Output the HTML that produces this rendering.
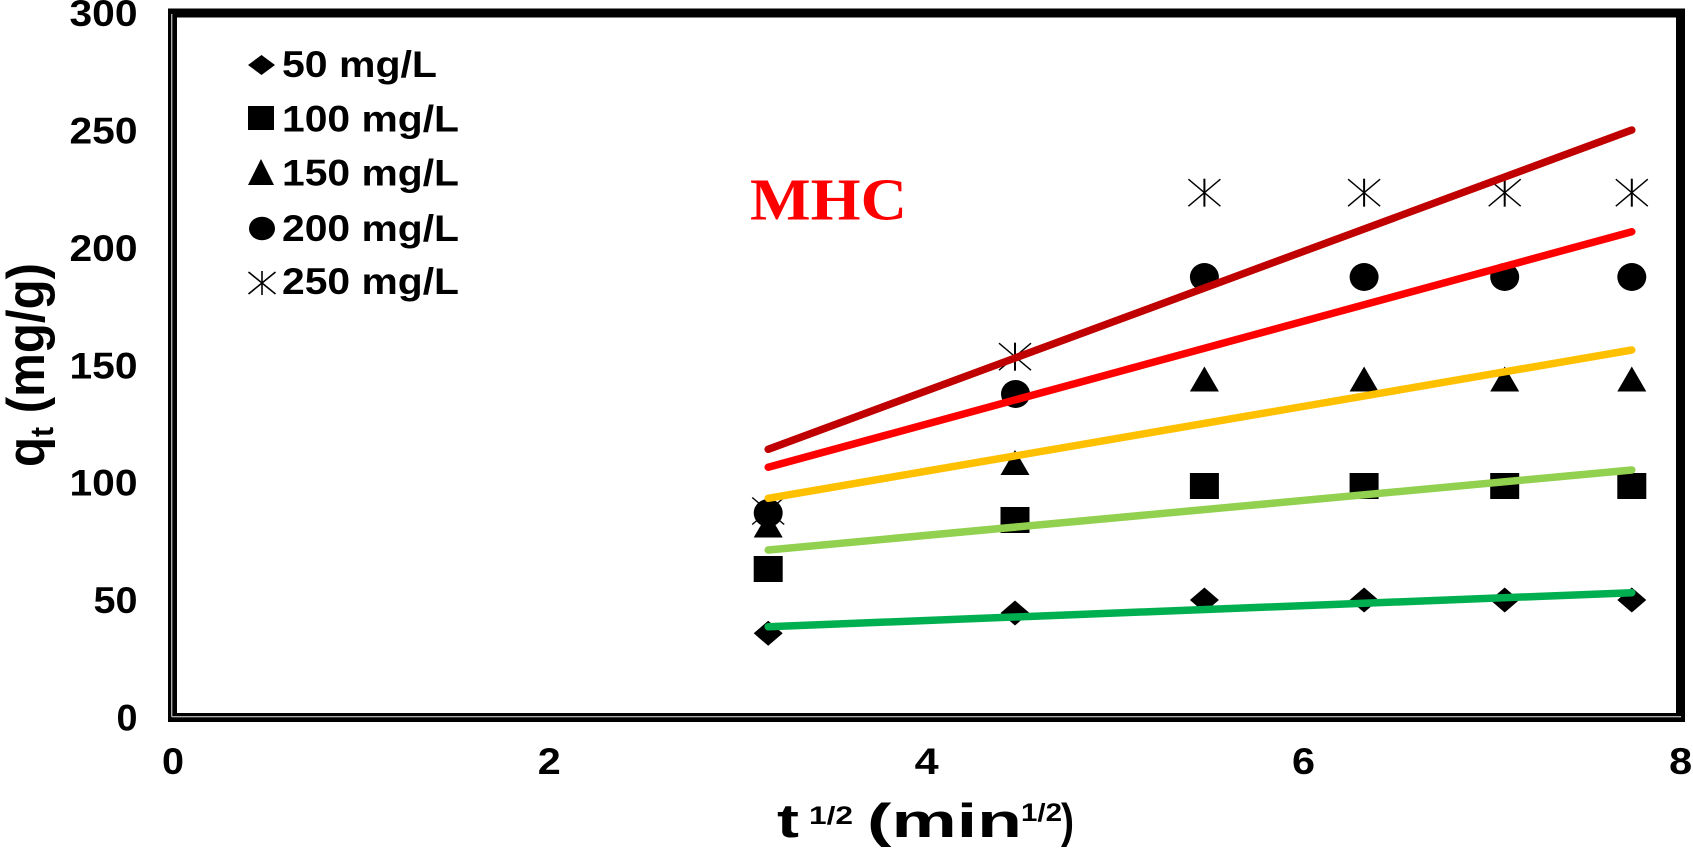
<!DOCTYPE html>
<html><head><meta charset="utf-8"><style>
html,body{margin:0;padding:0;background:#fff;}
svg{display:block;}
text{font-family:"Liberation Sans",Arial,sans-serif;font-weight:bold;fill:#000;}
</style></head><body>
<svg width="1693" height="848" viewBox="0 0 1693 848" xmlns="http://www.w3.org/2000/svg">
<rect width="1693" height="848" fill="#fff"/>
<!-- frame -->
<rect x="172.5" y="13" width="1508" height="704.5" fill="none" stroke="#000" stroke-width="9"/>
<line x1="171.7" y1="14" x2="171.7" y2="716.7" stroke="#aaa" stroke-width="1.4"/>
<line x1="171.7" y1="716.7" x2="1681" y2="716.7" stroke="#aaa" stroke-width="1.4"/>

<!-- y tick labels -->
<g font-size="37" text-anchor="end">
<text x="137.5" y="730.5" textLength="21" lengthAdjust="spacingAndGlyphs">0</text>
<text x="137.5" y="613.1" textLength="44" lengthAdjust="spacingAndGlyphs">50</text>
<text x="137.5" y="495.7" textLength="68" lengthAdjust="spacingAndGlyphs">100</text>
<text x="137.5" y="378.3" textLength="68" lengthAdjust="spacingAndGlyphs">150</text>
<text x="137.5" y="260.9" textLength="68" lengthAdjust="spacingAndGlyphs">200</text>
<text x="137.5" y="143.5" textLength="68" lengthAdjust="spacingAndGlyphs">250</text>
<text x="137.5" y="26.1" textLength="68" lengthAdjust="spacingAndGlyphs">300</text>
</g>
<!-- x tick labels -->
<g font-size="37" text-anchor="middle">
<text x="173" y="774" textLength="22" lengthAdjust="spacingAndGlyphs">0</text>
<text x="549.3" y="774" textLength="23" lengthAdjust="spacingAndGlyphs">2</text>
<text x="926.7" y="774" textLength="24" lengthAdjust="spacingAndGlyphs">4</text>
<text x="1303.5" y="774" textLength="23" lengthAdjust="spacingAndGlyphs">6</text>
<text x="1680.7" y="774" textLength="23" lengthAdjust="spacingAndGlyphs">8</text>
</g>

<!-- x axis title -->
<text x="777" y="837" font-size="47" textLength="22" lengthAdjust="spacingAndGlyphs">t</text>
<text x="809" y="824" font-size="25" textLength="44" lengthAdjust="spacingAndGlyphs">1/2</text>
<text x="867" y="837" font-size="47" textLength="155" lengthAdjust="spacingAndGlyphs">(min</text>
<text x="1021" y="821" font-size="25" textLength="41" lengthAdjust="spacingAndGlyphs">1/2</text>
<text x="1061" y="837" font-size="47" textLength="13" lengthAdjust="spacingAndGlyphs">)</text>

<!-- y axis title -->
<g transform="translate(44,467) scale(1.12,1) rotate(-90)">
<text x="0" y="0" font-size="47" textLength="204" lengthAdjust="spacingAndGlyphs">q<tspan font-size="29" dy="8">t</tspan><tspan dy="-8"> (mg/g)</tspan></text>
</g>

<!-- MHC -->
<text x="750" y="219.3" font-size="59" textLength="157" lengthAdjust="spacingAndGlyphs" style="font-family:'Liberation Serif','Times New Roman',serif;fill:#FF0000;">MHC</text>

<!-- legend -->
<g font-size="37">
<text x="282" y="77" textLength="155" lengthAdjust="spacingAndGlyphs">50 mg/L</text>
<text x="282" y="131.5" textLength="177" lengthAdjust="spacingAndGlyphs">100 mg/L</text>
<text x="282" y="185.5" textLength="177" lengthAdjust="spacingAndGlyphs">150 mg/L</text>
<text x="282" y="241" textLength="177" lengthAdjust="spacingAndGlyphs">200 mg/L</text>
<text x="282" y="294" textLength="177" lengthAdjust="spacingAndGlyphs">250 mg/L</text>
</g>
<polygon points="261.5,55 275,65 261.5,75 248,65" fill="#000"/>
<rect x="248" y="106" width="26" height="24" fill="#000"/>
<polygon points="261,159 274,185 248,185" fill="#000"/>
<ellipse cx="262" cy="228.5" rx="13" ry="11.8" fill="#000"/>
<g stroke="#000" stroke-width="1.6">
<line x1="262" y1="271" x2="262" y2="295"/>
<line x1="248.5" y1="272" x2="275.5" y2="294"/>
<line x1="248.5" y1="294" x2="275.5" y2="272"/>
</g>

<!-- markers -->
<defs>
<polygon id="dia" points="0,-12.5 14.5,0 0,12.5 -14.5,0" fill="#000"/>
<rect id="sq" x="-14.5" y="-13" width="29" height="26" fill="#000"/>
<polygon id="tri" points="0,-12.5 14.5,12.5 -14.5,12.5" fill="#000"/>
<ellipse id="cir" cx="0" cy="0" rx="14.5" ry="14" fill="#000"/>
<g id="ast" stroke="#000">
<line x1="0" y1="-14" x2="0" y2="14" stroke-width="2"/>
<line x1="-16" y1="-13.5" x2="16" y2="13.5" stroke-width="1.4"/>
<line x1="-16" y1="13.5" x2="16" y2="-13.5" stroke-width="1.4"/>
</g>
</defs>
<!-- 50 -->
<use href="#dia" x="768.2" y="633.3"/>
<use href="#dia" x="1015" y="613"/>
<use href="#dia" x="1204.4" y="600"/>
<use href="#dia" x="1364.1" y="600"/>
<use href="#dia" x="1504.7" y="600"/>
<use href="#dia" x="1631.8" y="600"/>
<!-- 100 -->
<use href="#sq" x="768.2" y="569"/>
<use href="#sq" x="1015" y="520"/>
<use href="#sq" x="1204.4" y="486"/>
<use href="#sq" x="1364.1" y="486"/>
<use href="#sq" x="1504.7" y="486"/>
<use href="#sq" x="1631.8" y="486"/>
<!-- 150 -->
<use href="#tri" x="768.2" y="525"/>
<use href="#tri" x="1015" y="462.5"/>
<use href="#tri" x="1204.4" y="379"/>
<use href="#tri" x="1364.1" y="379"/>
<use href="#tri" x="1504.7" y="379"/>
<use href="#tri" x="1631.8" y="379"/>
<!-- 250 -->
<use href="#ast" x="768.2" y="511"/>
<use href="#ast" x="1015" y="356.7"/>
<use href="#ast" x="1204.4" y="192.7"/>
<use href="#ast" x="1364.1" y="192.7"/>
<use href="#ast" x="1504.7" y="192.7"/>
<use href="#ast" x="1631.8" y="192.7"/>
<!-- 200 -->
<use href="#cir" x="768.2" y="513"/>
<use href="#cir" x="1015.5" y="394"/>
<use href="#cir" x="1204.4" y="277"/>
<use href="#cir" x="1364.1" y="277"/>
<use href="#cir" x="1504.7" y="277"/>
<use href="#cir" x="1631.8" y="277"/>

<!-- regression lines -->
<g stroke-width="7.5" stroke-linecap="round" fill="none">
<line x1="768.2" y1="626.7" x2="1631.8" y2="592.7" stroke="#00B050"/>
<line x1="768.2" y1="550" x2="1631.8" y2="470" stroke="#92D050"/>
<line x1="768.2" y1="498.3" x2="1631.8" y2="350" stroke="#FFC000"/>
<line x1="768.2" y1="467.3" x2="1631.8" y2="231.7" stroke="#FF0000"/>
<line x1="768.2" y1="449.3" x2="1631.8" y2="130" stroke="#C00000"/>
</g>
</svg>
</body></html>
